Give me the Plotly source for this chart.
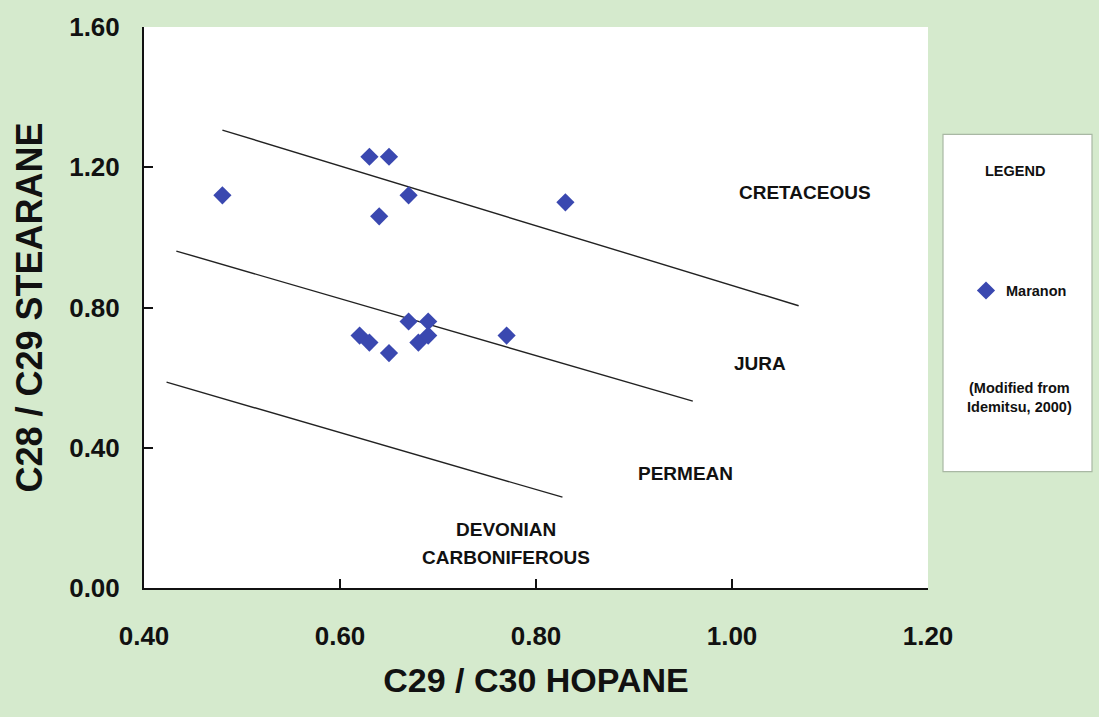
import plotly.graph_objects as go

# Maranon oil samples: hopane ratio vs sterane ratio
hopane_ratio = [0.48, 0.63, 0.65, 0.67, 0.64, 0.83,
                0.67, 0.69, 0.62, 0.63, 0.65, 0.68, 0.69, 0.77]
sterane_ratio = [1.12, 1.23, 1.23, 1.12, 1.06, 1.10,
                 0.76, 0.76, 0.72, 0.70, 0.67, 0.70, 0.72, 0.72]

# Age-boundary lines (start and end points)
boundary_x = [[0.48, 1.068], [0.433, 0.960], [0.423, 0.827]]
boundary_y = [[1.306, 0.805], [0.961, 0.533], [0.587, 0.259]]

# Age field labels
age_labels = ["CRETACEOUS", "JURA", "PERMEAN", "DEVONIAN", "CARBONIFEROUS"]
age_x = [1.074, 1.029, 0.953, 0.769, 0.769]
age_y = [1.129, 0.641, 0.328, 0.167, 0.087]

x_ticks = [0.40, 0.60, 0.80, 1.00, 1.20]
y_ticks = [0.00, 0.40, 0.80, 1.20, 1.60]

FONT = "Liberation Sans, Arial, Helvetica, sans-serif"
BG = "#d5eacd"

fig = go.Figure()

for bx, by in zip(boundary_x, boundary_y):
    fig.add_trace(go.Scatter(x=bx, y=by, mode="lines",
                             line=dict(color="#222222", width=1.4),
                             showlegend=False, hoverinfo="skip"))

fig.add_trace(go.Scatter(x=hopane_ratio, y=sterane_ratio, mode="markers",
                         name="Maranon",
                         marker=dict(symbol="diamond", size=14, color="#3a48b0",
                                     line=dict(width=0))))

for txt, tx, ty in zip(age_labels, age_x, age_y):
    fig.add_annotation(x=tx, y=ty, text=txt, showarrow=False,
                       font=dict(family=FONT, size=19, color="#111111", weight="bold"))

# Legend panel
fig.add_shape(type="rect", xref="paper", yref="paper",
              x0=(943 - 144) / 784, x1=(1092 - 144) / 784,
              y0=(588 - 471) / 564, y1=(588 - 132) / 564,
              fillcolor="white", line=dict(color="#a9b8a4", width=1.2), layer="below")
fig.add_annotation(xref="paper", yref="paper", xanchor="center", yanchor="middle",
                   x=(1015 - 144) / 784, y=(588 - 169) / 564,
                   text="LEGEND", showarrow=False,
                   font=dict(family=FONT, size=14.5, color="#111111", weight="bold"))
fig.add_annotation(xref="paper", yref="paper", xanchor="center", yanchor="middle",
                   x=(1019 - 144) / 784, y=(588 - 396) / 564,
                   text="(Modified from<br>Idemitsu, 2000)", showarrow=False,
                   font=dict(family=FONT, size=14.5, color="#111111", weight="bold"))

fig.update_layout(
    width=1099, height=717,
    margin=dict(l=144, r=171, t=24, b=129),
    paper_bgcolor=BG, plot_bgcolor="white",
    font=dict(family=FONT, color="#111111", weight="bold"),
    showlegend=True,
    legend=dict(x=(966 - 144) / 784, y=(588 - 289) / 564, xanchor="left", yanchor="middle",
                bgcolor="rgba(0,0,0,0)", font=dict(family=FONT, size=14.5, weight="bold")),
    xaxis=dict(range=[0.4, 1.2], tickvals=x_ticks, tickformat=".2f",
               showgrid=False, zeroline=False, showline=True, linecolor="#111111",
               linewidth=2, ticks="inside", ticklen=9, tickwidth=2, tickcolor="#111111",
               tickfont=dict(family=FONT, size=26, weight="bold"),
               ticklabelstandoff=24,
               title=dict(text="C29 / C30 HOPANE", standoff=18,
                          font=dict(family=FONT, size=34, weight="bold"))),
    yaxis=dict(range=[0, 1.6], tickvals=y_ticks, tickformat=".2f",
               showgrid=False, zeroline=False, showline=True, linecolor="#111111",
               linewidth=2, ticks="inside", ticklen=9, tickwidth=2, tickcolor="#111111",
               tickfont=dict(family=FONT, size=26, weight="bold"),
               ticklabelstandoff=17,
               title=dict(text="C28 / C29 STEARANE", standoff=16,
                          font=dict(family=FONT, size=36, weight="bold"))),
)

fig.write_html("out.html")
